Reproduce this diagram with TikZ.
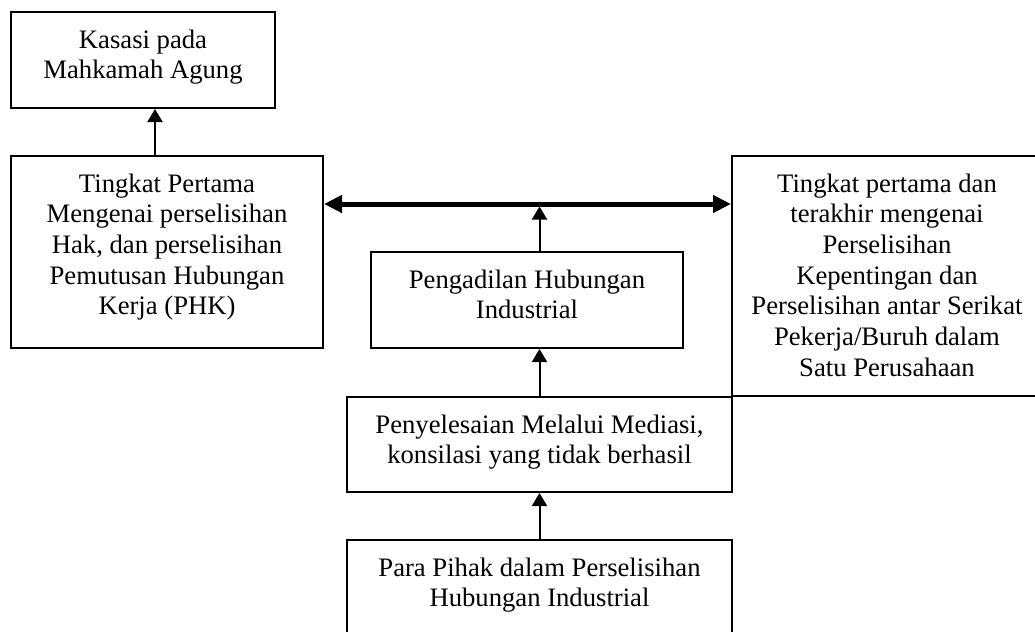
\documentclass[tikz,border=0pt]{standalone}
\usepackage{fontspec}
\setmainfont{Liberation Serif}
\usetikzlibrary{arrows.meta,positioning,calc}
\newdimen\pxu \pxu=0.45pt
\newcommand{\btxt}[3]{\parbox[c][#2\pxu][t]{#1\pxu}{\centering\rule{0pt}{36\pxu}#3}}
\tikzset{
  blok/.style={rectangle, draw, line width=0.9pt, inner sep=0pt, font=\fontsize{12}{13.8}\selectfont},
  link/.style={-{Triangle[length=5.9pt, width=6.8pt]}, line width=0.9pt},
  wide/.style={{Triangle[length=8.1pt, width=7.6pt]}-{Triangle[length=8.1pt, width=7.6pt]}, line width=2.25pt},
}

\begin{document}
\begin{tikzpicture}[x=0.45pt, y=-0.45pt]
  \useasboundingbox (0,0) rectangle (1035,631);
  \clip (0,0) rectangle (1035,631);
  \node[blok] (kasasi) at (143,60) {\btxt{264}{96}{Kasasi pada\\Mahkamah Agung}};
  \node[blok] (pertama) at (167,252) {\btxt{312}{192}{Tingkat Pertama\\Mengenai perselisihan\\Hak, dan perselisihan\\Pemutusan Hubungan\\Kerja (PHK)}};
  \node[blok] (terakhir) at (887,276) {\btxt{310}{240}{Tingkat pertama dan\\terakhir mengenai\\Perselisihan\\Kepentingan dan\\Perselisihan antar Serikat\\Pekerja/Buruh dalam\\Satu Perusahaan}};
  \node[blok] (pengadilan) at (527,300) {\btxt{312}{96}{Pengadilan Hubungan\\Industrial}};
  \node[blok] (penyelesaian) at (539.5,444.5) {\btxt{385}{95}{Penyelesaian Melalui Mediasi,\\konsilasi yang tidak berhasil}};
  \node[blok] (para) at (539.5,588) {\btxt{385}{96}{Para Pihak dalam Perselisihan\\Hubungan Industrial}};
  \coordinate (hub) at (539.5,204);
  \draw[link] ([xshift=-12\pxu]pertama.north) -- ([xshift=12\pxu]kasasi.south);
  \draw[wide] (hub -| pertama.east) -- (hub -| terakhir.west);
  \draw[link] (hub |- pengadilan.north) -- ([yshift=-1.1pt]hub);
  \draw[link] (penyelesaian.north) -- (penyelesaian.north |- pengadilan.south);
  \draw[link] (para.north) -- (penyelesaian.south);
\end{tikzpicture}
\end{document}
